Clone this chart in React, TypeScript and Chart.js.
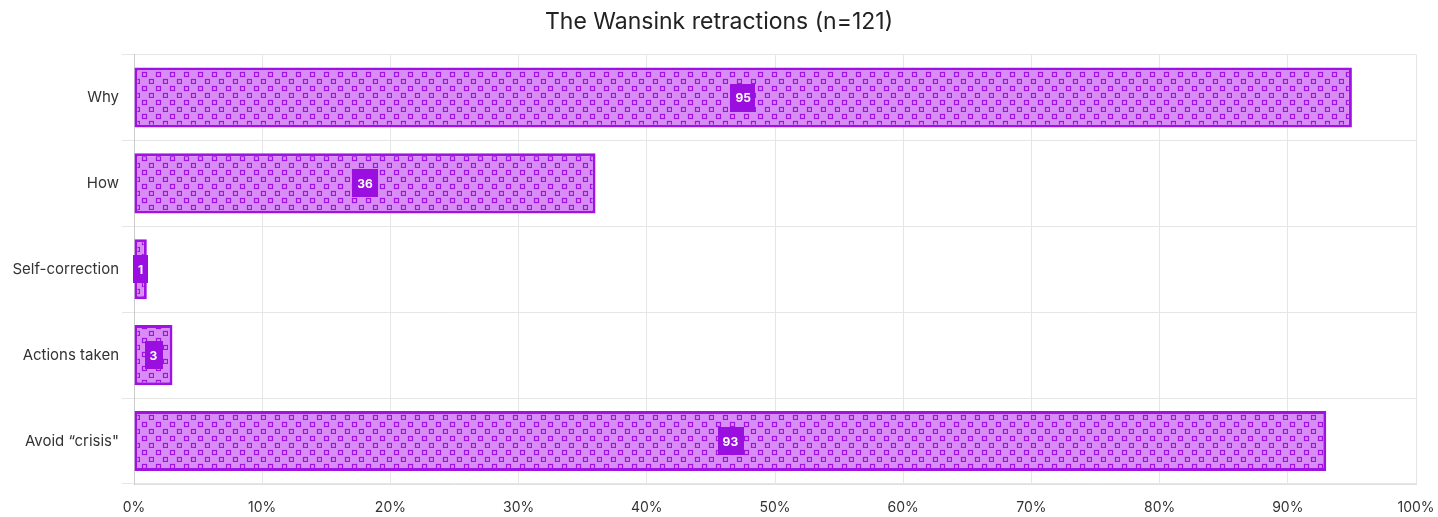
import React, { useEffect, useRef } from "react";
import { Chart, registerables } from "chart.js";

Chart.register(...registerables);

const categories = ["Why", "How", "Self-correction", "Actions taken", "Avoid \u201ccrisis\""];
const values = [95, 36, 1, 3, 93];
const xTicks = [0, 10, 20, 30, 40, 50, 60, 70, 80, 90, 100];
const titleText = "The Wansink retractions (n=121)";

const FILL = "#d98cf5";
const DARK = "#a012e2";
const LABEL_BG = "#9a0fe0";
const FONT = "Inter, 'Open Sans', sans-serif";

function makePattern(): CanvasPattern | string {
  const c = document.createElement("canvas");
  c.width = 14;
  c.height = 14;
  const ctx = c.getContext("2d");
  if (!ctx) return FILL;
  ctx.fillStyle = FILL;
  ctx.fillRect(0, 0, 14, 14);
  ctx.strokeStyle = DARK;
  ctx.lineWidth = 1.2;
  ctx.strokeRect(2.5, 2.5, 4, 4);
  ctx.strokeRect(9.5, 9.5, 4, 4);
  const p = ctx.createPattern(c, "repeat");
  return p || FILL;
}

const valueLabelPlugin = {
  id: "valueLabels",
  afterDatasetsDraw(chart: any) {
    const ctx = chart.ctx;
    const meta = chart.getDatasetMeta(0);
    ctx.save();
    ctx.font = `bold 12px ${FONT}`;
    ctx.textAlign = "center";
    ctx.textBaseline = "middle";
    meta.data.forEach((bar: any, i: number) => {
      const txt = String(values[i]);
      const cx = (bar.x + bar.base) / 2;
      const cy = bar.y;
      const w = ctx.measureText(txt).width + 10;
      const h = 28;
      ctx.fillStyle = LABEL_BG;
      ctx.fillRect(Math.round(cx - w / 2), Math.round(cy - h / 2), Math.round(w), h);
      ctx.fillStyle = "#ffffff";
      ctx.fillText(txt, cx, cy + 1);
    });
    ctx.restore();
  },
};

export default function App() {
  const ref = useRef<HTMLCanvasElement | null>(null);

  useEffect(() => {
    if (!ref.current) return;
    const pattern = makePattern();
    const chart = new Chart(ref.current, {
      type: "bar",
      data: {
        labels: categories,
        datasets: [
          {
            data: values,
            backgroundColor: pattern as any,
            borderColor: DARK,
            borderWidth: 3,
            borderSkipped: false,
            categoryPercentage: 0.7,
            barPercentage: 1,
          },
        ],
      },
      options: {
        indexAxis: "y",
        animation: false,
        responsive: false,
        maintainAspectRatio: false,
        layout: { padding: { left: 0, right: 0, top: 0, bottom: 0 } },
        plugins: {
          legend: { display: false },
          tooltip: { enabled: false },
          title: {
            display: true,
            text: titleText,
            color: "#222222",
            font: { family: FONT, size: 23, weight: "normal" },
            padding: { top: 8, bottom: 19 },
          },
        },
        scales: {
          x: {
            min: 0,
            max: 100,
            afterBuildTicks(scale: any) {
              scale.ticks = xTicks.map((v) => ({ value: v }));
            },
            afterFit(scale: any) {
              scale.height = 33;
              scale.paddingRight = 22;
              scale.paddingLeft = 0;
            },
            ticks: {
              callback: (v: any) => `${v}%`,
              color: "#333333",
              font: { family: FONT, size: 14 },
              padding: 15,
              maxRotation: 0,
            },
            grid: { color: "#e6e6e6", drawTicks: false },
            border: { color: "#e0e0e0" },
          },
          y: {
            afterFit(scale: any) {
              scale.width = 134;
            },
            ticks: {
              color: "#333333",
              font: { family: FONT, size: 15 },
              padding: 3,
            },
            grid: { color: "#e6e6e6", offset: true, tickLength: 12 },
            border: { color: "#cccccc" },
          },
        },
      },
      plugins: [valueLabelPlugin],
    });
    return () => chart.destroy();
  }, []);

  return (
    <div style={{ position: "fixed", left: 0, top: 0, width: 1438, height: 517, background: "#fff" }}>
      <canvas ref={ref} width={1438} height={517} style={{ display: "block" }} />
    </div>
  );
}
